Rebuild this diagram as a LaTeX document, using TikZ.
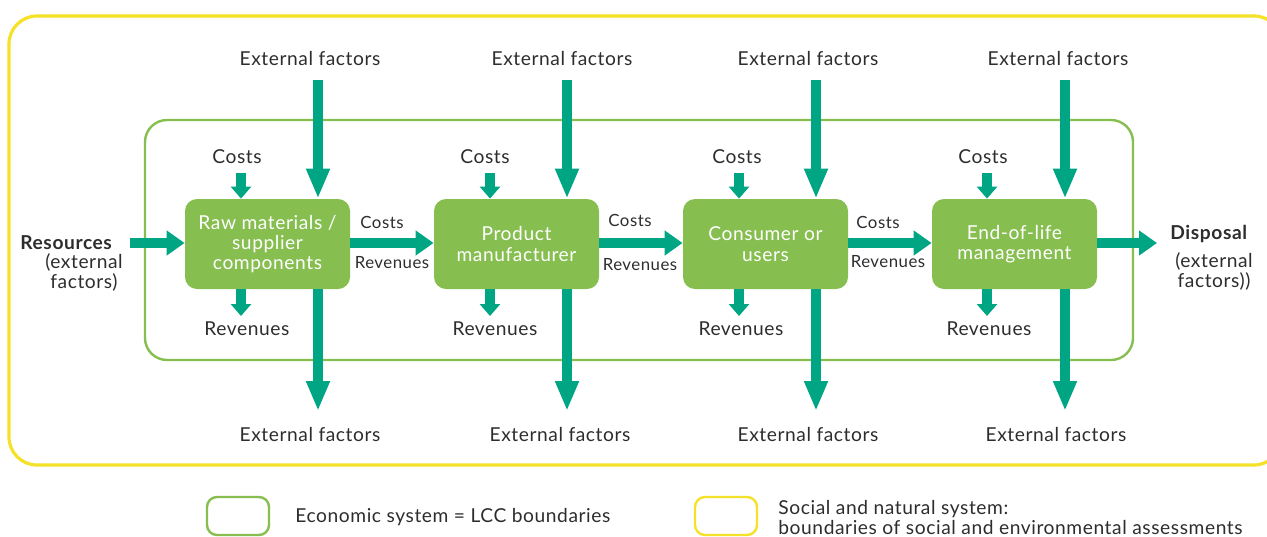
\documentclass[tikz,border=0pt]{standalone}
\usepackage{fontspec}
\setmainfont{Lato}[LetterSpace=3]
\usetikzlibrary{arrows.meta,calc}
\definecolor{boxgreen}{RGB}{134,190,80}
\definecolor{linegreen}{RGB}{134,190,80}
\definecolor{teal}{RGB}{0,166,132}
\definecolor{yel}{RGB}{245,225,40}
\definecolor{txt}{RGB}{45,45,45}
\tikzset{
  stagebox/.style={fill=boxgreen, draw=none, rounded corners=6pt, minimum width=82.5pt, minimum height=45pt, text=white, align=center, font=\fontsize{9.6pt}{10.2pt}\selectfont, inner sep=1pt},
  lbl/.style={text=txt, font=\fontsize{9.6pt}{10pt}\selectfont, inner sep=0pt},
  boldlbl/.style={text=txt, font=\bfseries\fontsize{9.6pt}{10pt}\selectfont, inner sep=0pt},
  smlbl/.style={text=txt, font=\fontsize{8.4pt}{9pt}\selectfont, inner sep=0pt},
  bigarrow/.style={draw=teal, line width=5pt, -{Triangle[length=15pt,width=11pt]}},
  flowarrow/.style={draw=teal, line width=5pt, -{Triangle[length=9pt,width=12pt]}},
  smallarrow/.style={draw=teal, line width=5pt, -{Triangle[length=6pt,width=10pt]}},
}
\begin{document}
\begin{tikzpicture}[x=0.5pt,y=-0.5pt]
\useasboundingbox (0,0) rectangle (1267,536);
\path[clip] (0,0) rectangle (1267,536);
% outer boundaries
\draw[yel, line width=1.6pt, rounded corners=14pt] (9,16) rectangle (1282,465);
\draw[linegreen, line width=1.2pt, rounded corners=11pt] (145,120) rectangle (1133,360);
% stage boxes
\node[stagebox] (b1) at (267.5,244) {Raw materials /\\supplier\\components};
\node[stagebox] (b2) at (516.5,244) {Product\\manufacturer};
\node[stagebox] (b3) at (765.5,244) {Consumer or\\users};
\node[stagebox] (b4) at (1014.5,244) {End-of-life\\management};
% resources / disposal
\node[boldlbl, anchor=west] (res) at (20,243) {Resources};
\node[lbl, align=center] (resx) at (84,272) {(external\\factors)};
\node[boldlbl, anchor=west] (dis) at (1170,234) {Disposal};
\node[lbl, align=center] (disx) at (1214,271) {(external\\factors))};
\coordinate (rin) at (130,243);
\coordinate (dout) at (1157,243);
\draw[flowarrow] (rin) -- (b1.west |- rin);
\draw[flowarrow] (b4.east |- dout) -- (dout);
% flows between boxes
\foreach \a/\b in {b1/b2,b2/b3,b3/b4}{
  \draw[flowarrow] (\a.east |- 0,243) -- (\b.west |- 0,243);
}
\node[smlbl] (c12) at (382,222) {Costs};
\node[smlbl] (r12) at (392,263) {Revenues};
\node[smlbl] (c23) at (630,220) {Costs};
\node[smlbl] (r23) at (640,265) {Revenues};
\node[smlbl] (c34) at (878,222) {Costs};
\node[smlbl] (r34) at (888,262) {Revenues};
% costs / revenues per box
\foreach \i/\cx/\ax/\rx in {1/237/241/247, 2/485/490/495, 3/737/739/741, 4/983/987/989}{
  \node[lbl] (cost\i) at (\cx,157) {Costs};
  \node[lbl] (rev\i) at (\rx,329) {Revenues};
  \coordinate (cs\i) at (\ax,173);
  \coordinate (re\i) at (\ax,316);
  \draw[smallarrow] (cs\i) -- (cs\i |- b\i.north);
  \draw[smallarrow] (cs\i |- b\i.south) -- (re\i);
}
% external factors
\foreach \i/\tx/\ax/\bx in {1/310/318/310, 2/562/567/560, 3/808/816/808, 4/1058/1065/1056}{
  \node[lbl] (eft\i) at (\tx,59) {External factors};
  \node[lbl] (efb\i) at (\bx,434) {External factors};
  \coordinate (et\i) at (\ax,80);
  \coordinate (eb\i) at (\ax,411);
  \draw[bigarrow] (et\i) -- (et\i |- b\i.north);
  \draw[bigarrow] (et\i |- b\i.south) -- (eb\i);
}
% legend
\draw[linegreen, line width=1.2pt, rounded corners=5pt] (207,497) rectangle (269,535);
\node[lbl, anchor=west] (leg1) at (295,517) {Economic system = LCC boundaries};
\draw[yel, line width=1.2pt, rounded corners=5pt] (695,497) rectangle (757,535);
\node[lbl, anchor=west, align=left] (leg2) at (778,517) {Social and natural system:\\boundaries of social and environmental assessments};
\end{tikzpicture}
\end{document}
